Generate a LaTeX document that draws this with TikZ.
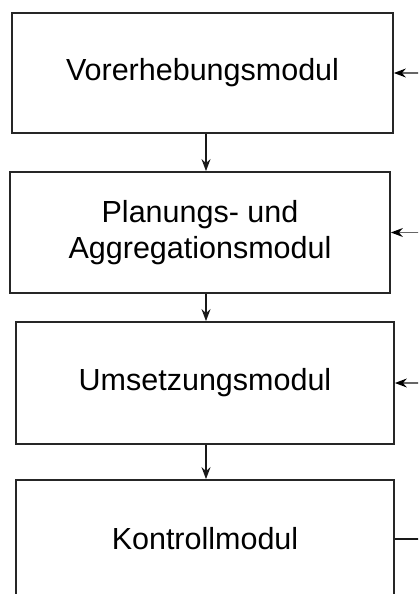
\documentclass[tikz,border=0pt]{standalone}
\usepackage{fontspec}
\setmainfont{Liberation Sans}
\usetikzlibrary{arrows.meta}
\begin{document}
\begin{tikzpicture}[x=1pt,y=-1pt,
  modul/.style={draw=black!85, line width=1.8pt, align=center,
    font=\fontsize{30.5}{36}\selectfont, inner sep=0pt},
  flow/.style={draw=black!90, line width=1.5pt,
    -{Stealth[length=12pt,width=9pt,inset=4pt]}},
  feedback/.style={draw=black!60, line width=1.2pt},
  feedarrow/.style={feedback, -{Stealth[length=12pt,width=9pt,inset=4pt,color=black]}}]
\useasboundingbox (0,0) rectangle (418,594);
\clip (0,0) rectangle (418,594);

% module boxes
\node[modul, minimum width=381pt, minimum height=120pt] (vor) at (202.5,73) {Vorerhebungsmodul};
\node[modul, minimum width=380pt, minimum height=121pt] (plan) at (200,232.5) {Planungs- und\\Aggregationsmodul};
\node[modul, minimum width=378pt, minimum height=122pt] (ums) at (205,383) {Umsetzungsmodul};
\node[modul, minimum width=378pt, minimum height=118pt] (kon) at (205,539) {Kontrollmodul};

% main flow
\coordinate (ax) at (206,0);
\draw[flow] (vor.south -| ax) -- (plan.north -| ax);
\draw[flow] (plan.south -| ax) -- (ums.north -| ax);
\draw[flow] (ums.south -| ax) -- (kon.north -| ax);

% feedback from the control module back to the earlier modules
\coordinate (fb) at (440,0);
\draw[line width=1.5pt, black!90] (kon.east) -- (kon.east -| fb) -- (vor.east -| fb);
\draw[feedarrow] (vor.east -| fb) -- (vor.east);
\draw[feedarrow] (plan.east -| fb) -- (plan.east);
\draw[feedarrow] (ums.east -| fb) -- (ums.east);
\end{tikzpicture}
\end{document}
